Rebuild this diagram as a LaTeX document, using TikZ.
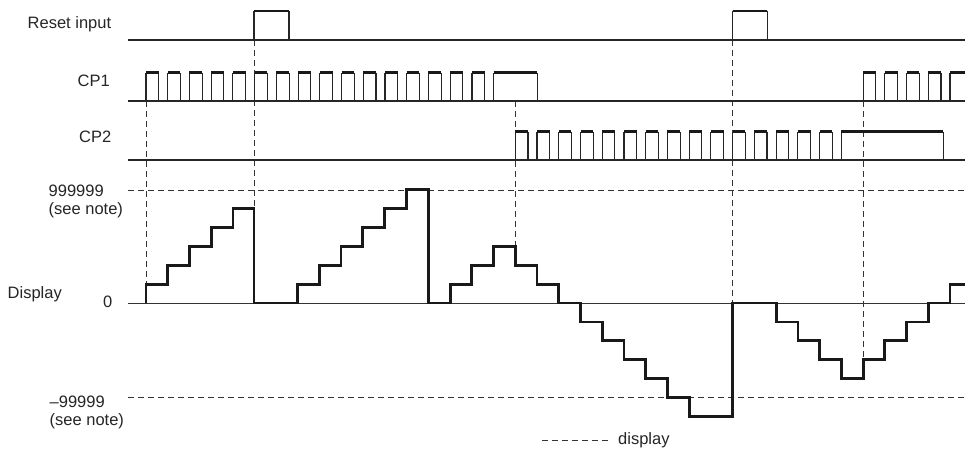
\documentclass[tikz,border=0pt]{standalone}
\usepackage{fontspec}
\setmainfont{Liberation Sans}
\begin{document}
\begin{tikzpicture}[x=1pt,y=-1pt,
  baseln/.style={line width=1.2pt, draw=black!85},
  pv/.style={line width=1.1pt, draw=black!85},
  ptop/.style={line width=2.6pt, draw=black!90, line cap=butt},
  disp/.style={line width=2.8pt, draw=black!90, line join=miter},
  guide/.style={dash pattern=on 6pt off 4pt, line width=0.9pt, draw=black!80},
  lbl/.style={font=\fontsize{16.5}{19}\selectfont, inner sep=0pt, text=black!85}]
\useasboundingbox (0,0) rectangle (965,453);
\fill[white] (0,0) rectangle (965,453);

% labels
\node[lbl, anchor=base west] (lreset) at (27.5,28) {Reset input};
\node[lbl, anchor=base east] (lcp1) at (110,86) {CP1};
\node[lbl, anchor=base east] (lcp2) at (111.5,142) {CP2};
\node[lbl, anchor=base west] (lmax) at (48.5,196.5) {999999};
\node[lbl, anchor=base west] (lnote1) at (48.5,214.5) {(see note)};
\node[lbl, anchor=base west] (ldisp) at (7.5,298.5) {Display};
\node[lbl, anchor=base east] (lzero) at (112.5,307) {0};
\node[lbl, anchor=base west] (lmin) at (49.5,407.5) {–99999};
\node[lbl, anchor=base west] (lnote2) at (49.5,425) {(see note)};
\node[lbl, anchor=base west] (llegend) at (618,444.5) {display};
\coordinate (lega) at (541.7,440.5);
\coordinate (legb) at (610,440.5);
\draw[guide] (lega) -- (legb);

% horizontal guides
\draw[guide] (128,190) -- (965,190);
\draw[guide] (128,397.5) -- (965,397.5);

% vertical guides
\draw[guide] (146,101) -- (146,284.1);
\draw[guide] (254,40) -- (254,208.5);
\draw[guide] (515.3,101) -- (515.3,246.3);
\draw[guide] (732.7,40) -- (732.7,303);
\draw[guide] (863.1,101) -- (863.1,359.7);

% baselines
\draw[baseln] (128,40) -- (965,40);
\draw[baseln, line width=1.6pt] (128,101) -- (965,101);
\draw[baseln] (128,160) -- (965,160);
\draw[line width=1pt, draw=black!80] (128,303) -- (965,303);

% reset pulses
\foreach \xa/\xb in {254/289, 732.7/767.3} {
  \draw[pv] (\xa,40) -- (\xa,11) (\xb,11) -- (\xb,40);
  \draw[ptop] (\xa,11) -- (\xb,11);
}

% CP1 pulses
\foreach \k in {0,...,15} {
  \pgfmathsetmacro\xa{146+21.73*\k}
  \pgfmathsetmacro\xb{\xa+12.7}
  \draw[pv] (\xa,101) -- (\xa,72.5) (\xb,72.5) -- (\xb,101);
  \draw[ptop] (\xa,72.5) -- (\xb,72.5);
}
\draw[pv] (493.7,101) -- (493.7,72.5) (537.3,72.5) -- (537.3,101);
\draw[ptop] (493.7,72.5) -- (537.3,72.5);
\foreach \k in {33,...,36} {
  \pgfmathsetmacro\xa{146+21.73*\k}
  \pgfmathsetmacro\xb{\xa+12.7}
  \draw[pv] (\xa,101) -- (\xa,72.5) (\xb,72.5) -- (\xb,101);
  \draw[ptop] (\xa,72.5) -- (\xb,72.5);
}
\draw[pv] (950,101) -- (950,72.5);
\draw[ptop] (950,72.5) -- (966,72.5);

% CP2 pulses
\foreach \j in {0,...,14} {
  \pgfmathsetmacro\xa{515.3+21.73*\j}
  \pgfmathsetmacro\xb{\xa+12.7}
  \draw[pv] (\xa,160) -- (\xa,131.5) (\xb,131.5) -- (\xb,160);
  \draw[ptop] (\xa,131.5) -- (\xb,131.5);
}
\draw[pv] (841.3,160) -- (841.3,131.5) (943.3,131.5) -- (943.3,160);
\draw[ptop] (841.3,131.5) -- (943.3,131.5);

% display staircase
\draw[disp] (146,303) |- (167.7,284.1) |- (189.5,265.2) |- (211.2,246.3)
  |- (232.9,227.4) |- (254,208.5) |- (297.3,303) |- (319.3,284.1)
  |- (341,265.2) |- (362.7,246.3) |- (384.3,227.4) |- (406.7,208.5)
  |- (428.3,189.6) |- (450.5,303) |- (471.7,284.1) |- (493.5,265.2)
  |- (515.3,246.3) |- (537,265.2) |- (558.7,284.1) |- (580.5,303)
  |- (602.2,321.9) |- (624,340.8) |- (645.7,359.7) |- (667.4,378.6)
  |- (689.1,397.5) |- (732.7,416.4) |- (776.2,303) |- (797.9,321.9)
  |- (819.7,340.8) |- (841.4,359.7) |- (863.1,378.6) |- (884.8,359.7)
  |- (906.6,340.8) |- (928.3,321.9) |- (950,303) |- (967,284.1);
\end{tikzpicture}
\end{document}
